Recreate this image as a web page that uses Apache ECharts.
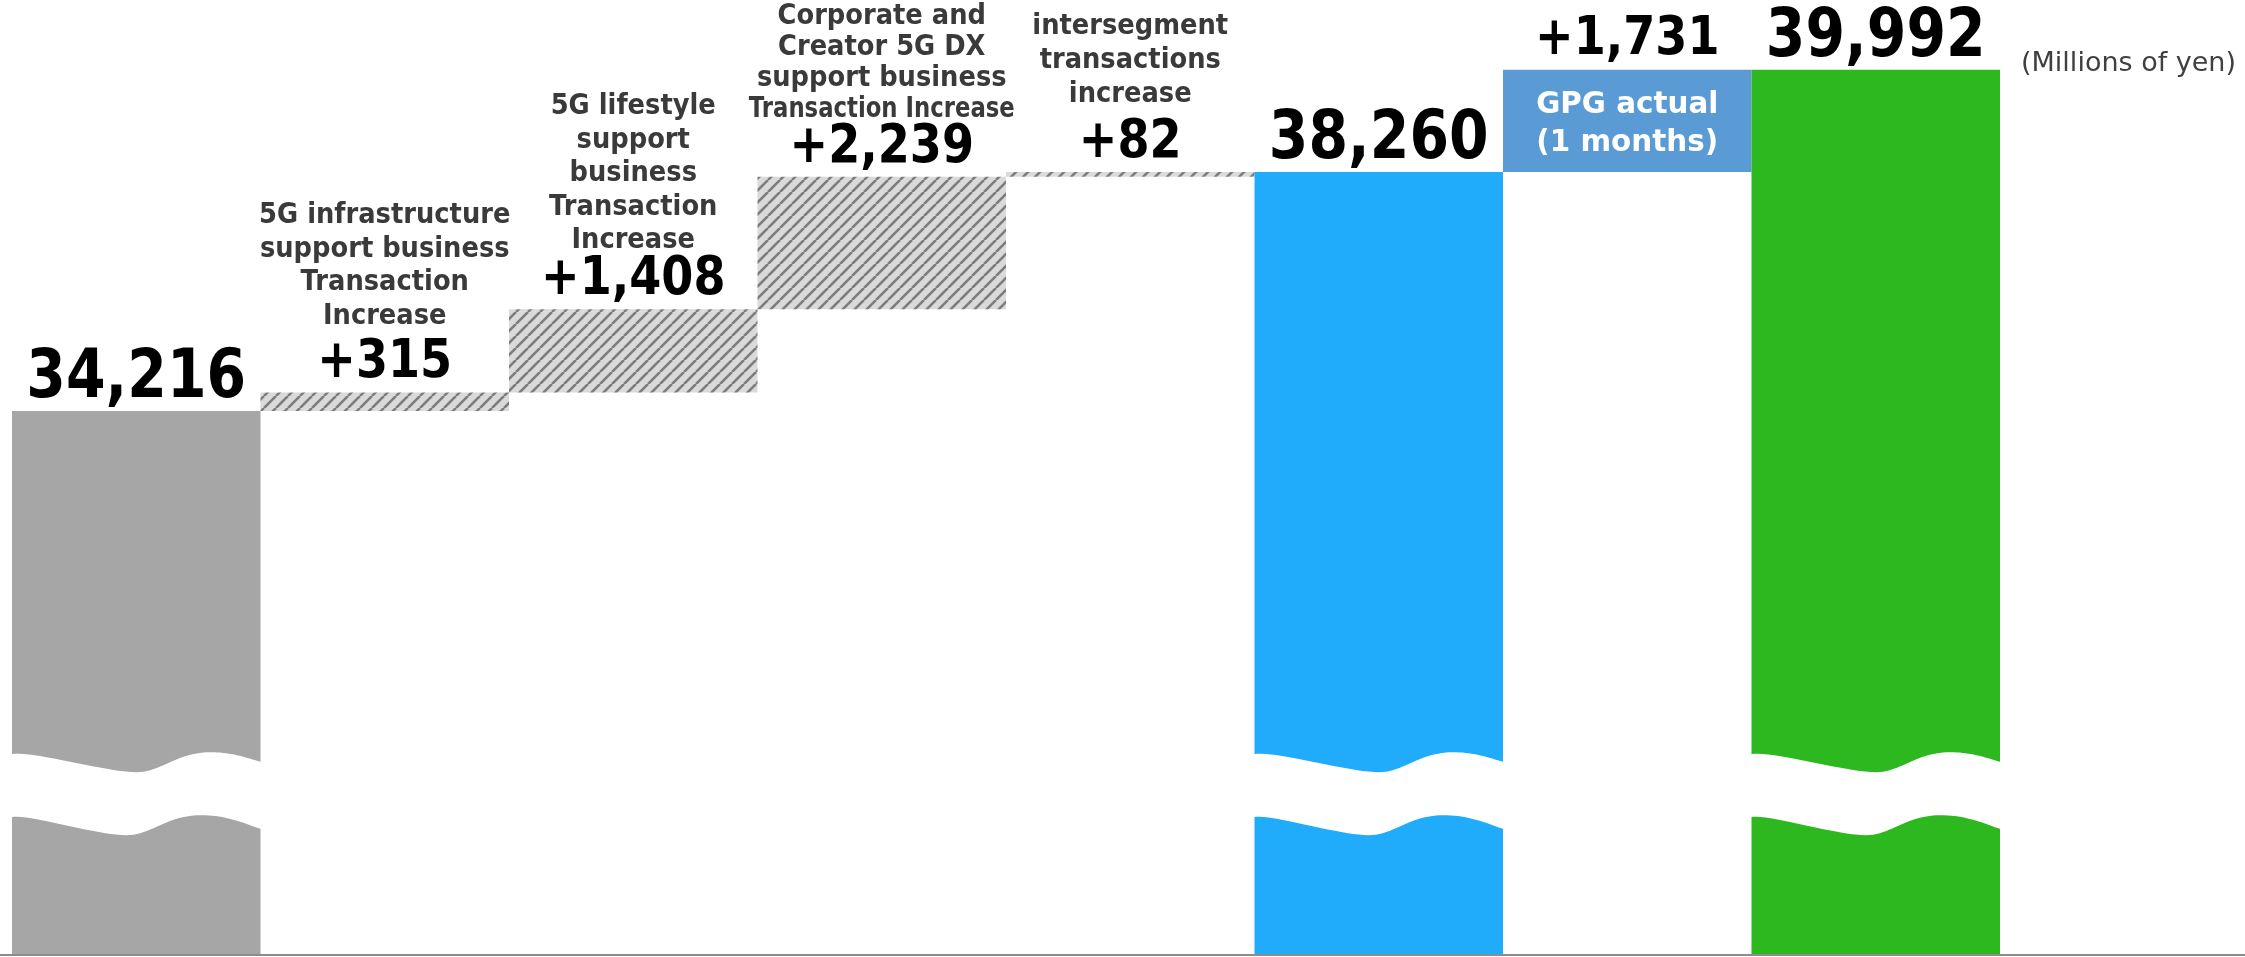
<!DOCTYPE html>
<html>
<head>
<meta charset="utf-8">
<script src="https://cdn.jsdelivr.net/npm/echarts@6/dist/echarts.min.js"></script>
<style>
  html, body { margin: 0; padding: 0; background: #ffffff; }
  #chart { width: 2245px; height: 957px; }
</style>
</head>
<body>
<div id="chart"></div>
<script>
// Net sales bridge (millions of yen)
const categories = ['Previous', '5G infrastructure', '5G lifestyle', 'Corporate and Creator 5G DX', 'Intersegment', 'Subtotal', 'GPG', 'Total'];
const stepLabels = [
  '',
  '5G infrastructure\nsupport business\nTransaction\nIncrease',
  '5G lifestyle\nsupport\nbusiness\nTransaction\nIncrease',
  'Corporate and\nCreator 5G DX\nsupport business\nTransaction Increase',
  'intersegment\ntransactions\nincrease',
  '',
  'GPG actual\n(1 months)',
  ''
];
const amounts = [34216, 315, 1408, 2239, 82, 38260, 1731, 39992];
const kinds = ['total', 'step', 'step', 'step', 'step', 'total', 'gpg', 'total'];
const brokenBars = [0, 5, 7];
const unitLabel = '(Millions of yen)';

const FONT = '"DejaVu Sans", Verdana, sans-serif';

// label block layout above each increment: lift of the last line, line pitch
const labelLift = [0, 76, 68, 67, 77, 0, 0, 0];
const labelPitch = [0, 33.5, 33.5, 31, 34, 0, 0, 0];

// running totals: increments float on the previous total
let running = 0;
const bases = amounts.map((v, i) => {
  if (kinds[i] === 'total') { running = v; return 0; }
  const b = running;
  running += v;
  return b;
});
const tops = amounts.map((v, i) => bases[i] + v);

// diagonal hatch for the increment bars
function hatchPattern() {
  const c = document.createElement('canvas');
  c.width = 12; c.height = 12;
  const ctx = c.getContext('2d');
  ctx.fillStyle = '#dadada';
  ctx.fillRect(0, 0, 12, 12);
  ctx.strokeStyle = '#7c7c7c';
  ctx.lineWidth = 2.6;
  for (const o of [-12, 0, 12]) {
    ctx.beginPath();
    ctx.moveTo(o, 12);
    ctx.lineTo(o + 12, 0);
    ctx.stroke();
  }
  return { image: c, repeat: 'repeat' };
}
const hatch = hatchPattern();
const totalColors = ['#a6a6a6', null, null, null, null, '#20acfa', null, '#2db81f'];
function fillFor(i) {
  if (kinds[i] === 'step') return hatch;
  if (kinds[i] === 'gpg') return '#5b9bd5';
  return totalColors[i];
}

const fmt = v => v.toLocaleString('en-US');

// text measuring for fitting wide label lines
const measureCtx = document.createElement('canvas').getContext('2d');
function textWidth(text, size, weight) {
  measureCtx.font = weight + ' ' + size + 'px ' + FONT;
  return measureCtx.measureText(text).width;
}

// wavy break bands: cubic segments in (fraction of bar width, px from band centre)
const breakValue = 27750;
const upperEdge = [
  [[0, -39], [0.08, -43], [0.38, -21], [0.5, -21]],
  [[0.5, -21], [0.6, -21], [0.66, -41], [0.8, -41]],
  [[0.8, -41], [0.88, -41], [0.95, -35], [1, -31]]
];
const lowerEdge = [
  [[0, 24], [0.06, 20], [0.34, 42], [0.46, 42]],
  [[0.46, 42], [0.56, 42], [0.62, 22], [0.76, 22]],
  [[0.76, 22], [0.86, 22], [0.93, 30], [1, 36]]
];
function sampleEdge(segs) {
  const pts = [];
  segs.forEach((s, k) => {
    for (let n = (k === 0 ? 0 : 1); n <= 20; n++) {
      const t = n / 20, u = 1 - t;
      const a = u * u * u, b = 3 * u * u * t, c = 3 * u * t * t, d = t * t * t;
      pts.push([
        a * s[0][0] + b * s[1][0] + c * s[2][0] + d * s[3][0],
        a * s[0][1] + b * s[1][1] + c * s[2][1] + d * s[3][1]
      ]);
    }
  });
  return pts;
}
const upperPts = sampleEdge(upperEdge);
const lowerPts = sampleEdge(lowerEdge);

const chart = echarts.init(document.getElementById('chart'), null, { renderer: 'canvas' });

chart.setOption({
  animation: false,
  backgroundColor: '#ffffff',
  title: {
    text: unitLabel,
    right: 4,
    top: 45,
    textStyle: { fontFamily: FONT, fontSize: 27, fontWeight: 'normal', color: '#404040' }
  },
  grid: { left: 12, right: 245, top: 0, bottom: 3, containLabel: false },
  xAxis: {
    type: 'category',
    data: categories,
    axisLine: { show: false },
    axisTick: { show: false },
    axisLabel: { show: false }
  },
  yAxis: {
    type: 'value',
    min: 25030,
    max: 41170,
    show: false,
    splitLine: { show: false }
  },
  graphic: [{
    type: 'line',
    shape: { x1: 0, y1: 955, x2: 2245, y2: 955 },
    style: { stroke: '#8c8c8c', lineWidth: 2 },
    z: 100
  }],
  series: [
    {
      name: 'base',
      type: 'bar',
      stack: 'bridge',
      silent: true,
      barCategoryGap: '0%',
      itemStyle: { color: 'transparent' },
      data: bases
    },
    {
      name: 'amount',
      type: 'bar',
      stack: 'bridge',
      barCategoryGap: '0%',
      data: amounts.map((v, i) => ({ value: v, itemStyle: { color: fillFor(i) } }))
    },
    {
      // white wave bands marking the broken value axis
      name: 'break',
      type: 'custom',
      silent: true,
      z: 5,
      data: brokenBars.map(i => [i, breakValue]),
      renderItem: (params, api) => {
        const c = api.coord([api.value(0), api.value(1)]);
        const w = api.size([1, 0])[0];
        const x0 = c[0] - w / 2 - 1, ww = w + 2;
        const pts = upperPts.map(p => [x0 + p[0] * ww, c[1] + p[1]])
          .concat(lowerPts.slice().reverse().map(p => [x0 + p[0] * ww, c[1] + p[1]]));
        return { type: 'polygon', shape: { points: pts }, style: { fill: '#ffffff' } };
      }
    },
    {
      // value and description labels above / inside each bar
      name: 'labels',
      type: 'custom',
      silent: true,
      z: 10,
      data: tops.map((t, i) => [i, t]),
      renderItem: (params, api) => {
        const i = api.value(0);
        const top = api.coord([i, api.value(1)]);
        const cx = top[0], ty = top[1];
        const kids = [];
        const big = kinds[i] === 'total';
        kids.push({
          type: 'text',
          x: cx,
          y: ty - (big ? 31 : 29),
          scaleX: big ? 0.85 : 0.87,
          style: {
            text: (big ? '' : '+') + fmt(amounts[i]),
            fontFamily: FONT,
            fontWeight: 'bold',
            fontSize: big ? 67 : 53,
            fill: '#000000',
            align: 'center',
            verticalAlign: 'middle'
          }
        });
        if (kinds[i] === 'step') {
          const lines = stepLabels[i].split('\n');
          const n = lines.length;
          lines.forEach((ln, j) => {
            const wdt = textWidth(ln, 28, 'bold');
            const s = Math.min(0.92, 266 / wdt);
            kids.push({
              type: 'text',
              x: cx,
              y: ty - labelLift[i] - (n - 1 - j) * labelPitch[i],
              scaleX: s,
              style: {
                text: ln,
                fontFamily: FONT,
                fontWeight: 'bold',
                fontSize: 28,
                fill: '#3a3a3a',
                align: 'center',
                verticalAlign: 'middle'
              }
            });
          });
        } else if (kinds[i] === 'gpg') {
          const bottom = api.coord([i, bases[i]])[1];
          const mid = (ty + bottom) / 2;
          stepLabels[i].split('\n').forEach((ln, j) => {
            kids.push({
              type: 'text',
              x: cx,
              y: mid - 16 + j * 38,
              scaleX: 0.98,
              style: {
                text: ln,
                fontFamily: FONT,
                fontWeight: 'bold',
                fontSize: 30,
                fill: '#ffffff',
                align: 'center',
                verticalAlign: 'middle'
              }
            });
          });
        }
        return { type: 'group', children: kids };
      }
    }
  ]
});
</script>
</body>
</html>
